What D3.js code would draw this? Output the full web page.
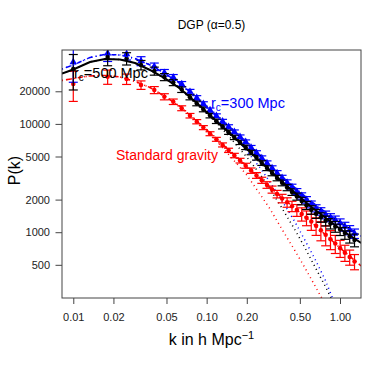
<!DOCTYPE html>
<html>
<head>
<meta charset="utf-8">
<script src="https://cdn.jsdelivr.net/npm/d3@7"></script>
<style>
  body { margin: 0; background: #fff; }
  svg { font-family: "Liberation Sans", Arial, sans-serif; }
</style>
</head>
<body>
<svg id="plot" width="374" height="374" viewBox="0 0 374 374"></svg>
<script>

// measured power spectrum bins (k in h/Mpc)
const kBins = [0.0100, 0.0181, 0.0251, 0.0322, 0.0405, 0.0482, 0.0562, 0.0650, 0.0750, 0.0843,
	0.0945, 0.1060, 0.1183, 0.1316, 0.1460, 0.1614, 0.1780, 0.1962, 0.2154, 0.2364,
	0.2591, 0.2835, 0.3095, 0.3374, 0.3679, 0.4011, 0.4364, 0.4750, 0.5161, 0.5607,
	0.6090, 0.6617, 0.7188, 0.7809, 0.8485, 0.9219, 1.002, 1.088, 1.182, 1.285];

// rc = 500 Mpc (black)
const pBlack = [32130, 41470, 40180, 34990, 30790, 27100, 24120, 20740, 17640, 15460,
	13610, 11930, 10570, 9400, 8380, 7505, 6750, 6070, 5445, 4865,
	4355, 3907, 3513, 3166, 2858, 2587, 2351, 2136, 1945, 1772,
	1610, 1482, 1373, 1275, 1203, 1129, 1059, 983, 913, 847];
const errBlack = [11570, 7050, 5220, 3500, 2620, 2030, 1570, 1240, 970, 770,
	680, 570, 490, 420, 380, 340, 300, 280, 256, 234,
	218, 203, 193, 184, 177, 171, 165, 160, 156, 151,
	145, 141, 137, 134, 132, 130, 127, 123, 119, 114];

// rc = 300 Mpc (blue)
const pBlue = [37280, 44860, 44190, 38090, 33750, 29700, 26930, 23310, 19830, 17390,
	15300, 13410, 11880, 10570, 9422, 8437, 7586, 6821, 6056, 5410,
	4843, 4346, 3907, 3520, 3179, 2877, 2615, 2376, 2164, 1992,
	1809, 1666, 1560, 1448, 1367, 1296, 1216, 1129, 1048, 973];
const errBlue = [13050, 7180, 5300, 3620, 2700, 2080, 1620, 1280, 990, 835,
	704, 590, 500, 444, 396, 354, 319, 293, 266, 243,
	223, 209, 195, 183, 175, 167, 160, 152, 145, 139,
	132, 127, 123, 119, 116, 114, 111, 106, 102, 97];

// standard gravity (red)
const pRed = [23360, 27280, 25980, 22870, 20560, 17830, 16030, 13960, 11910, 10480,
	9244, 8121, 7209, 6400, 5704, 5108, 4583, 4111, 3706, 3346,
	3021, 2734, 2480, 2253, 2052, 1889, 1739, 1600, 1473, 1359,
	1253, 1146, 1041, 948, 862, 785, 713, 648, 590, 536];
const errRed = [7240, 4090, 2860, 2060, 1540, 1160, 930, 726, 572, 472,
	397, 341, 303, 275, 257, 240, 229, 218, 211, 204,
	196, 191, 186, 180, 185, 189, 191, 200, 206, 211,
	213, 212, 208, 199, 172, 149, 128, 110, 94, 86];

// non-linear predictions
const kTheory = [0.00823, 0.01, 0.01335, 0.01729, 0.0224, 0.02904, 0.03762, 0.04874,
	0.06316, 0.08923, 0.126, 0.2116, 0.3553, 0.5966, 1.002, 1.44];
const pNLBlack = [29200, 31790, 37280, 39730, 39310, 36500, 31450, 26260,
	21230, 14630, 9872, 5502, 3034, 1746, 1070, 795];
const pNLBlue = [32130, 34990, 41030, 43730, 43270, 40180, 34990, 29200,
	23610, 16270, 10980, 6119, 3374, 1962, 1216, 922];
const pNLRed = [25160, 26260, 27690, 27980, 27100, 24640, 21680, 17910,
	14480, 9979, 6808, 3793, 2160, 1269, 715, 488];

// linear predictions
const kLinear = [0.00823, 0.01, 0.01335, 0.01729, 0.0224, 0.02904, 0.03762, 0.04874,
	0.06316, 0.08923, 0.1191, 0.1498, 0.1999, 0.2510, 0.2988, 0.3553,
	0.4603, 0.5472, 0.6504, 0.7731, 0.8875, 0.95];
const pLinBlack = [29200, 31790, 37280, 39730, 39310, 36500, 31450, 26260,
	21230, 14470, 10190, 7488, 4948, 3447, 2505, 1783,
	1048, 715, 477, 318.6, 226.7, 208];
const pLinBlue = [32130, 34990, 41030, 43730, 43270, 40180, 34990, 29200,
	23610, 16270, 11340, 8401, 5609, 3948, 2900, 2087,
	1240, 838, 562, 365, 240, 205];
const pLinRed = [25160, 26260, 27690, 27980, 27100, 24640, 21680, 17910,
	14480, 9979, 6880, 5054, 3374, 2253, 1638, 1139,
	672, 467, 318.6, 217, 160, 140];

const xTicks = [0.01, 0.02, 0.05, 0.10, 0.20, 0.50, 1.00];
const yTicks = [500, 1000, 2000, 5000, 10000, 20000];

const svg = d3.select('#plot');
const mLeft = 62, mRight = 361, mTop = 50, mBottom = 298;

const x = d3.scaleLog().domain([0.00823, 1.437]).range([mLeft, mRight]);
const y = d3.scaleLog().domain([247, 48100]).range([mBottom, mTop]);

svg.append('rect').attr('width', 374).attr('height', 374).attr('fill', '#fff');

svg.append('defs').append('clipPath').attr('id', 'clip')
	.append('rect')
	.attr('x', mLeft).attr('y', mTop)
	.attr('width', mRight - mLeft).attr('height', mBottom - mTop);

// axes
const xAxis = d3.axisBottom(x)
	.tickValues(xTicks)
	.tickFormat(d3.format('.2f'))
	.tickSize(6)
	.tickPadding(9.5);
const gx = svg.append('g')
	.attr('transform', 'translate(0,' + mBottom + ')')
	.call(xAxis);

const yAxis = d3.axisLeft(y)
	.tickValues(yTicks)
	.tickFormat(d => String(d))
	.tickSize(6.5)
	.tickPadding(5.5);
const gy = svg.append('g')
	.attr('transform', 'translate(' + mLeft + ',0)')
	.call(yAxis);

[gx, gy].forEach(g => {
	g.select('.domain').remove();
	g.selectAll('line').attr('stroke', '#444');
	g.selectAll('text').attr('font-size', 11).attr('fill', '#222')
		.attr('font-family', '"Liberation Sans", Arial, sans-serif');
});

const plot = svg.append('g').attr('clip-path', 'url(#clip)');

const line = d3.line()
	.x(d => x(d[0]))
	.y(d => y(d[1]));

function drawLine(ks, ps, color, dash, width) {
	plot.append('path')
		.datum(ks.map((k, i) => [k, ps[i]]))
		.attr('d', line)
		.attr('fill', 'none')
		.attr('stroke', color)
		.attr('stroke-width', width)
		.attr('stroke-dasharray', dash);
}

// linear theory (dotted)
drawLine(kLinear, pLinRed, '#ff0000', '1,3.5', 1.5);
drawLine(kLinear, pLinBlack, '#000', '1,3.5', 1.5);
drawLine(kLinear, pLinBlue, '#0000ff', '1,3.5', 1.5);

// error bars + points
function drawSeries(ps, errs, color, shape) {
	const g = plot.append('g');
	const cap = 4.5;
	const bars = g.selectAll('g.bar')
		.data(kBins.map((k, i) => ({k: k, p: ps[i], e: errs[i]})))
		.enter().append('g');
	bars.append('line')
		.attr('x1', d => x(d.k)).attr('x2', d => x(d.k))
		.attr('y1', d => y(d.p + d.e)).attr('y2', d => y(Math.max(d.p - d.e, 1)))
		.attr('stroke', color).attr('stroke-width', 1.2);
	bars.append('line')
		.attr('x1', d => x(d.k) - cap).attr('x2', d => x(d.k) + cap)
		.attr('y1', d => y(d.p + d.e)).attr('y2', d => y(d.p + d.e))
		.attr('stroke', color).attr('stroke-width', 1.2);
	bars.append('line')
		.attr('x1', d => x(d.k) - cap).attr('x2', d => x(d.k) + cap)
		.attr('y1', d => y(d.p - d.e)).attr('y2', d => y(d.p - d.e))
		.attr('stroke', color).attr('stroke-width', 1.2);
	const sym = shape === 'triangle'
		? d3.symbol().type(d3.symbolTriangle).size(24)
		: d3.symbol().type(d3.symbolCircle).size(16);
	bars.append('path')
		.attr('d', sym)
		.attr('transform', d => 'translate(' + x(d.k) + ',' + y(d.p) + ')')
		.attr('fill', color);
}

drawSeries(pRed, errRed, '#ff0000', 'circle');
drawSeries(pBlue, errBlue, '#0000ff', 'triangle');
drawSeries(pBlack, errBlack, '#000', 'circle');

// non-linear theory
drawLine(kTheory, pNLRed, '#ff0000', '1,3,5,3', 1.5);
drawLine(kTheory, pNLBlue, '#0000ff', '1,3,5,3', 1.5);
drawLine(kTheory, pNLBlack, '#000', null, 2);

// frame
svg.append('rect')
	.attr('x', mLeft).attr('y', mTop)
	.attr('width', mRight - mLeft).attr('height', mBottom - mTop)
	.attr('fill', 'none').attr('stroke', '#444').attr('stroke-width', 1);

// labels
svg.append('text')
	.attr('x', (mLeft + mRight) / 2).attr('y', 29)
	.attr('text-anchor', 'middle').attr('font-size', 12)
	.text('DGP (α=0.5)');

const xl = svg.append('text')
	.attr('x', 211.5).attr('y', 345)
	.attr('text-anchor', 'middle').attr('font-size', 16);
xl.append('tspan').text('k in h Mpc');
xl.append('tspan').attr('dy', -6).attr('font-size', 11).text('−1');

svg.append('text')
	.attr('transform', 'translate(20,170.5) rotate(-90)')
	.attr('text-anchor', 'middle').attr('font-size', 16)
	.text('P(k)');

function subLabel(px, py, color, sub, rest) {
	const t = svg.append('text')
		.attr('x', px).attr('y', py)
		.attr('font-size', 14.5).attr('fill', color);
	t.append('tspan').text('r');
	t.append('tspan').attr('dy', 3).attr('font-size', 10).text(sub);
	t.append('tspan').attr('dy', -3).text(rest);
}
subLabel(74, 78, '#000', 'c', '=500 Mpc');
subLabel(211, 108, '#0000ff', 'c', '=300 Mpc');

svg.append('text')
	.attr('x', 116).attr('y', 160)
	.attr('font-size', 14).attr('fill', '#ff0000')
	.text('Standard gravity');

</script>
</body>
</html>
